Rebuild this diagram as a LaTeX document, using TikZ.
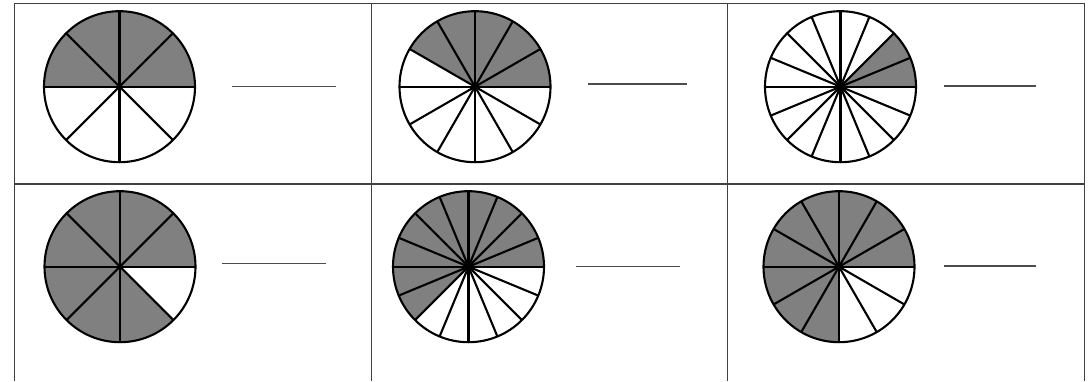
\documentclass[tikz,border=0pt]{standalone}
\begin{document}
\begin{tikzpicture}[x=1pt,y=1pt,
  grid/.style={draw=black!75,line width=1.3pt},
  pieline/.style={draw=black,line width=2.1pt},
  shade/.style={fill=black!50},
  answer/.style={draw=black!70,line width=1.1pt}]
\useasboundingbox (0,0) rectangle (1089,381);
\newcommand{\fracpie}[5]{%
  % #1 x, #2 y, #3 n, #4 k shaded, #5 name
  \coordinate (#5) at (#1,#2);
  \pgfmathsetmacro{\shadeang}{360*#4/#3}
  \fill[shade] (#5) -- ++(0:75.5) arc[start angle=0,end angle=\shadeang,radius=75.5] -- cycle;
  \pgfmathsetmacro{\stepang}{360/#3}
  \foreach \i in {1,...,#3} {
    \draw[pieline] (#5) -- ++({\i*\stepang}:75.5);
  }
  \draw[pieline] (#5) circle[radius=75.5];
}
% table
\coordinate (tl) at (14.5,377.5);
\coordinate (tr) at (1084.3,377.5);
\coordinate (bl) at (14.5,0);
\coordinate (br) at (1084.3,0);
\coordinate (ml) at (14.5,197);
\coordinate (mr) at (1084.3,197);
\coordinate (v1t) at (371.7,377.5);
\coordinate (v1b) at (371.7,0);
\coordinate (v2t) at (727.7,377.5);
\coordinate (v2b) at (727.7,0);
\draw[grid] (bl) -- (tl) -- (tr) -- (br);
\draw[grid] (ml) -- (mr);
\draw[grid] (v1t) -- (v1b);
\draw[grid] (v2t) -- (v2b);
% pies
\fracpie{119.5}{294.3}{8}{4}{p1}
\fracpie{475}{294.3}{12}{5}{p2}
\fracpie{840.5}{294.3}{16}{2}{p3}
\fracpie{120}{114.3}{8}{7}{p4}
\fracpie{468.5}{114.3}{16}{10}{p5}
\fracpie{839}{114.3}{12}{9}{p6}
% answer lines
\coordinate (a1s) at (231.7,294.7); \coordinate (a1e) at (335.7,294.7);
\coordinate (a2s) at (587.7,297); \coordinate (a2e) at (687.3,297);
\coordinate (a3s) at (944,295); \coordinate (a3e) at (1035.7,295);
\coordinate (a4s) at (221.7,117.3); \coordinate (a4e) at (325.7,117.3);
\coordinate (a5s) at (576,114.3); \coordinate (a5e) at (680,114.3);
\coordinate (a6s) at (944,115); \coordinate (a6e) at (1035.7,115);
\draw[answer] (a1s) -- (a1e);
\draw[answer] (a2s) -- (a2e);
\draw[answer] (a3s) -- (a3e);
\draw[answer] (a4s) -- (a4e);
\draw[answer] (a5s) -- (a5e);
\draw[answer] (a6s) -- (a6e);
\end{tikzpicture}
\end{document}
